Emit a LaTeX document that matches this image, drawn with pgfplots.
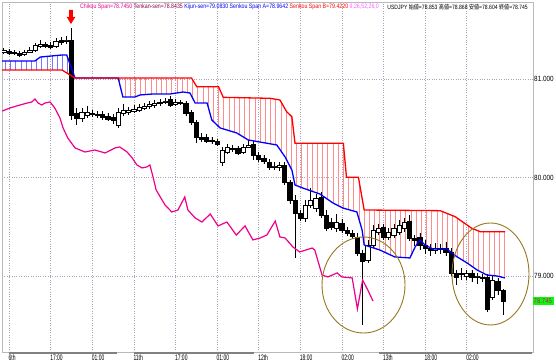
\documentclass[border=0pt]{standalone}
\usepackage{fontspec}
\setmainfont{Liberation Sans}
\newfontfamily\hdr[FakeStretch=0.82]{Liberation Sans}
\newfontfamily\jp[FakeStretch=0.82]{Noto Sans CJK JP}
\newfontfamily\xl[FakeStretch=0.62]{Liberation Sans}
\newfontfamily\yl[FakeStretch=0.85]{Liberation Sans}
\usepackage{pgfplots}
\pgfplotsset{compat=1.18}
\usepgfplotslibrary{statistics,fillbetween}
\usetikzlibrary{patterns.meta}
\definecolor{tenkan}{RGB}{140,0,70}
\definecolor{param}{RGB}{255,90,255}
\definecolor{gridc}{RGB}{175,160,185}
\definecolor{olivec}{RGB}{150,120,30}
\definecolor{hatchr}{RGB}{255,140,140}
\definecolor{hatchb}{RGB}{120,120,255}
\definecolor{pricebg}{RGB}{0,255,0}
\pgfplotsset{candle/.style={draw=black, line width=0.6pt, solid, mark=none}}
\newcommand\K[5]{%
  \ifdim #5pt>#2pt
    \def\kf{white}\def\kl{#2}\def\kh{#5}%
  \else
    \def\kf{black}\def\kl{#5}\def\kh{#2}%
  \fi
  \edef\kdo{\noexpand\addplot[candle, fill=\kf, boxplot/draw direction=y, boxplot prepared={draw direction=y, draw position=#1, lower whisker=#4, lower quartile=\kl, median=\kl, upper quartile=\kh, upper whisker=#3, box extend=0.8, whisker extend=0}] coordinates {};}%
  \kdo}
\begin{document}
\begin{tikzpicture}
\begin{axis}[
  at={(0pt,0pt)}, anchor=south west, scale only axis,
  width=531pt, height=350pt,
  xmin=-1.346, xmax=100.77, ymin=78.228, ymax=81.782,
  xtick={0,8,...,88},
  xticklabels={6th,17:00,01:00,11th,17:00,01:00,12th,18:00,02:00,13th,18:00,02:00},
  ytick={79,80,81}, yticklabels={79.000,80.000,81.000},
  yticklabel pos=right,
  grid=major, grid style={dotted, color=gridc, line width=0.5pt},
  major tick length=0pt,
  axis line style={draw=gray!55, line width=0.6pt},
  xticklabel style={anchor=north west, inner sep=0pt, xshift=-0.5pt, yshift=-2.5pt, font=\xl\fontsize{8}{9}\selectfont},
  yticklabel style={anchor=west, inner sep=0pt, xshift=1pt, font=\yl\fontsize{7.5}{8}\selectfont},
]
\K{-1}{81.274}{81.315}{81.254}{81.294}
\K{0}{81.284}{81.305}{81.244}{81.264}
\K{1}{81.274}{81.294}{81.244}{81.264}
\K{2}{81.264}{81.284}{81.223}{81.244}
\K{3}{81.254}{81.294}{81.233}{81.274}
\K{4}{81.274}{81.325}{81.264}{81.294}
\K{5}{81.294}{81.365}{81.274}{81.345}
\K{6}{81.335}{81.396}{81.315}{81.355}
\K{7}{81.355}{81.376}{81.315}{81.335}
\K{8}{81.345}{81.376}{81.305}{81.325}
\K{9}{81.335}{81.416}{81.315}{81.386}
\K{10}{81.396}{81.426}{81.345}{81.376}
\K{11}{81.386}{81.437}{81.355}{81.396}
\K{12}{81.396}{81.518}{80.584}{80.635}
\K{13}{80.655}{80.706}{80.533}{80.604}
\K{14}{80.604}{80.706}{80.564}{80.665}
\K{15}{80.635}{80.726}{80.604}{80.665}
\K{16}{80.655}{80.685}{80.614}{80.645}
\K{17}{80.645}{80.675}{80.604}{80.635}
\K{18}{80.645}{80.675}{80.584}{80.614}
\K{19}{80.624}{80.655}{80.574}{80.594}
\K{20}{80.614}{80.645}{80.543}{80.584}
\K{21}{80.533}{80.706}{80.503}{80.665}
\K{22}{80.655}{80.746}{80.624}{80.685}
\K{23}{80.665}{80.716}{80.635}{80.685}
\K{24}{80.675}{80.736}{80.655}{80.695}
\K{25}{80.685}{80.746}{80.665}{80.716}
\K{26}{80.706}{80.756}{80.685}{80.726}
\K{27}{80.726}{80.777}{80.695}{80.746}
\K{28}{80.736}{80.787}{80.706}{80.756}
\K{29}{80.756}{80.797}{80.726}{80.767}
\K{30}{80.767}{80.807}{80.746}{80.777}
\K{31}{80.797}{80.827}{80.716}{80.736}
\K{32}{80.746}{80.797}{80.726}{80.767}
\K{33}{80.767}{80.787}{80.736}{80.756}
\K{34}{80.756}{80.777}{80.624}{80.655}
\K{35}{80.665}{80.685}{80.533}{80.564}
\K{36}{80.564}{80.584}{80.350}{80.411}
\K{37}{80.411}{80.452}{80.360}{80.391}
\K{38}{80.411}{80.442}{80.350}{80.371}
\K{39}{80.381}{80.411}{80.340}{80.371}
\K{40}{80.371}{80.391}{80.320}{80.340}
\K{41}{80.157}{80.310}{80.117}{80.279}
\K{42}{80.259}{80.340}{80.239}{80.310}
\K{43}{80.300}{80.330}{80.259}{80.289}
\K{44}{80.300}{80.320}{80.228}{80.249}
\K{45}{80.259}{80.340}{80.239}{80.310}
\K{46}{80.310}{80.381}{80.300}{80.330}
\K{47}{80.340}{80.371}{80.178}{80.228}
\K{48}{80.228}{80.259}{80.157}{80.188}
\K{49}{80.198}{80.228}{80.137}{80.168}
\K{50}{80.157}{80.188}{80.076}{80.107}
\K{51}{80.107}{80.157}{80.076}{80.117}
\K{52}{80.107}{80.157}{80.066}{80.127}
\K{53}{80.127}{80.157}{79.924}{79.954}
\K{54}{79.954}{79.975}{79.731}{79.772}
\K{55}{79.772}{79.822}{79.183}{79.640}
\K{56}{79.640}{79.670}{79.558}{79.589}
\K{57}{79.589}{79.772}{79.548}{79.721}
\K{58}{79.721}{79.893}{79.690}{79.772}
\K{59}{79.690}{79.832}{79.650}{79.792}
\K{60}{79.802}{79.853}{79.589}{79.619}
\K{61}{79.619}{79.670}{79.457}{79.487}
\K{62}{79.548}{79.589}{79.467}{79.497}
\K{63}{79.487}{79.629}{79.447}{79.548}
\K{64}{79.538}{79.579}{79.437}{79.467}
\K{65}{79.467}{79.497}{79.406}{79.437}
\K{66}{79.437}{79.467}{79.376}{79.406}
\K{67}{79.396}{79.437}{79.203}{79.234}
\K{68}{79.234}{79.264}{78.503}{79.152}
\K{69}{79.163}{79.366}{79.132}{79.315}
\K{70}{79.315}{79.518}{79.284}{79.467}
\K{71}{79.447}{79.528}{79.416}{79.487}
\K{72}{79.497}{79.528}{79.366}{79.396}
\K{73}{79.396}{79.487}{79.366}{79.447}
\K{74}{79.416}{79.528}{79.386}{79.487}
\K{75}{79.447}{79.569}{79.416}{79.518}
\K{76}{79.487}{79.589}{79.447}{79.548}
\K{77}{79.558}{79.619}{79.355}{79.386}
\K{78}{79.386}{79.416}{79.305}{79.366}
\K{79}{79.396}{79.437}{79.264}{79.315}
\K{80}{79.315}{79.366}{79.223}{79.284}
\K{81}{79.284}{79.325}{79.203}{79.264}
\K{82}{79.264}{79.335}{79.223}{79.284}
\K{83}{79.284}{79.325}{79.223}{79.274}
\K{84}{79.284}{79.345}{79.203}{79.244}
\K{85}{79.244}{79.284}{79.000}{79.031}
\K{86}{79.031}{79.061}{78.909}{78.990}
\K{87}{79.020}{79.081}{78.959}{79.031}
\K{88}{79.000}{79.061}{78.959}{79.031}
\K{89}{79.031}{79.061}{78.939}{78.990}
\K{90}{78.990}{79.031}{78.919}{79.000}
\K{91}{78.990}{79.020}{78.939}{78.980}
\K{92}{78.990}{79.020}{78.635}{78.665}
\K{93}{78.787}{79.000}{78.756}{78.959}
\K{94}{78.949}{78.980}{78.807}{78.858}
\K{95}{78.853}{78.868}{78.604}{78.745}
% Senkou Span A
\addplot[blue, line width=1.3pt, name path=A] coordinates {
(-1.35,81.183) (5.0,81.183) (6.0,81.223) (10.2,81.244) (11.1,81.244) (12.7,81.010)
(21.0,81.010) (21.9,80.817) (24.2,80.817) (25.2,80.838) (27.7,80.848) (31.0,80.848)
(33.5,80.868) (34.8,80.858) (35.8,80.756) (38.1,80.756) (39.0,80.584) (40.6,80.503)
(43.8,80.452) (46.0,80.381) (51.5,80.330) (53.1,80.208) (54.4,80.076) (55.0,79.924)
(56.5,79.893) (59.8,79.832) (62.3,79.741) (64.2,79.690) (66.9,79.650) (67.9,79.467)
(68.3,79.315) (71.3,79.264) (74.2,79.193) (77.1,79.183) (78.1,79.294) (79.0,79.366)
(80.0,79.315) (81.5,79.274) (84.2,79.274) (86.2,79.193) (88.1,79.132) (90.0,79.061)
(91.9,79.010) (93.8,79.000) (95.4,78.980)};
% Senkou Span B
\addplot[red, line width=1.3pt, name path=B] coordinates {
(-1.35,81.091) (10.2,81.091) (12.7,81.010) (35.1,81.010) (36.1,80.922) (40.3,80.922)
(41.2,80.814) (50.2,80.804) (52.1,80.787) (53.4,80.668) (54.4,80.617) (55.0,80.347)
(64.3,80.347) (64.9,80.002) (67.2,80.002) (68.3,79.670) (82.9,79.663) (85.8,79.602)
(89.0,79.484) (90.6,79.450) (95.4,79.450)};
\addplot[draw=none, pattern={Lines[angle=90,distance=5.2pt,line width=0.5pt]}, pattern color=hatchb]
  fill between[of=A and B, soft clip={(axis cs:-1.4,78.3) rectangle (axis cs:12.7,81.7)}];
\addplot[draw=none, pattern={Lines[angle=90,distance=5.2pt,line width=0.5pt]}, pattern color=hatchr]
  fill between[of=A and B, soft clip={(axis cs:12.7,78.3) rectangle (axis cs:96,81.7)}];
% Chikou Span
\addplot[magenta, line width=1.2pt] coordinates {
(-1.3,80.675) (0.2,80.706) (2.1,80.736) (3.5,80.756) (4.4,80.767) (5.0,80.797)
(5.6,80.756) (6.3,80.736) (6.9,80.756) (7.9,80.767) (8.8,80.706) (9.8,80.604)
(10.4,80.503) (11.3,80.401) (12.7,80.300) (14.6,80.259) (16.5,80.279) (18.5,80.249)
(20.4,80.300) (21.3,80.310) (22.7,80.259) (23.7,80.198) (24.6,80.127) (25.6,80.097)
(26.5,80.107) (27.1,80.127) (27.7,80.005) (28.3,79.873) (30.0,79.721) (31.3,79.650)
(32.5,79.670) (33.8,79.802) (34.4,79.670) (35.8,79.589) (37.1,79.548) (38.7,79.629)
(40.2,79.508) (41.9,79.548) (43.7,79.416) (45.4,79.508) (46.9,79.366) (48.3,79.386)
(49.6,79.416) (51.2,79.558) (52.1,79.396) (53.1,79.386) (54.6,79.294) (55.9,79.244)
(58.3,79.284) (58.8,79.264) (60.2,79.010) (61.3,78.990) (63.1,79.031) (64.0,78.990)
(66,78.980) (67,78.665) (68,78.959) (69,78.858) (70,78.745)};
\end{axis}
% day bars under the axis
\draw[gray, line width=1.5pt] (6.9pt,-1pt) -- (115pt,-1pt);
\draw[gray, line width=1.5pt] (132pt,-1pt) -- (251.5pt,-1pt);
\draw[gray, line width=1.5pt] (377pt,-1pt) -- (530pt,-1pt);
% header
\node[anchor=west, inner sep=0pt, font=\hdr\fontsize{6.4}{7}\selectfont] at (78pt,345pt)
 {\textcolor{magenta}{Chikou Span=78.7450} \textcolor{tenkan}{Tenkan-sen=78.8435} \textcolor{blue}{Kijun-sen=79.0830} \textcolor{blue}{Senkou Span A=78.9642} \textcolor{red}{Senkou Span B=79.4220} \textcolor{param}{9,26,52,26,0}};
\node[anchor=east, inner sep=0pt, font=\hdr\fontsize{6.2}{7}\selectfont] at (526pt,345pt)
 {USDJPY {\jp 始値}=78.853 {\jp 高値}=78.868 {\jp 安値}=78.604 {\jp 終値}=78.745};
% arrow
\fill[red] (67.2pt,342pt) -- (70.8pt,342pt) -- (70.8pt,335pt) -- (73.3pt,335pt) -- (69pt,328pt) -- (64.7pt,335pt) -- (67.2pt,335pt) -- cycle;
% ellipses
\draw[olivec, line width=0.9pt] (361.5pt,67pt) ellipse [x radius=41.5pt, y radius=48pt];
\draw[olivec, line width=0.9pt] (488.5pt,78pt) ellipse [x radius=38.5pt, y radius=51pt];
% price label
\fill[pricebg] (531pt,47pt) rectangle (552pt,55pt);
\node[anchor=west, inner sep=0pt, text=magenta, font=\yl\fontsize{7}{8}\selectfont] at (531.5pt,51pt) {78.745};
\pgfresetboundingbox
\path[use as bounding box] (-2pt,-11pt) rectangle (554pt,352pt);
\end{tikzpicture}
\end{document}
